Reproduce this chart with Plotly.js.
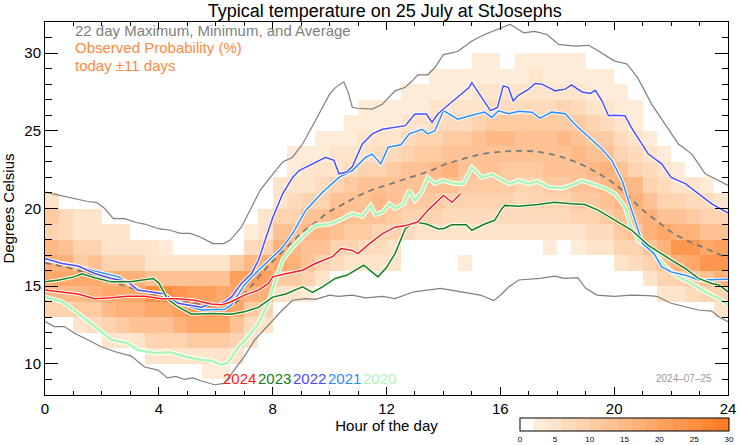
<!DOCTYPE html>
<html>
<head>
<meta charset="utf-8">
<script src="https://cdn.plot.ly/plotly-3.0.1.min.js"></script>
<style>html,body{margin:0;padding:0;background:#fff;}#chart{width:742px;height:445px;}</style>
</head>
<body>
<div id="chart"></div>
<script>
// ---------- Probability heatmap (% of observations), half-hour columns, 1 °C bins ----------
// colLow: lower edge (°C) of the lowest occupied bin in each half-hour column
var colLow = [13,13,12,12,11,11,11,10,10,10,10,9,9,10,11,12,
              14,14,14,15,16,16,16,16,16,18,18,18,18,16,18,18,
              18,18,18,17,18,17,17,17,16,16,15,14,14,14,14,13];
// colVals: probabilities of successive 1 °C bins going upward from colLow
var colVals = [
  [8,14,18,17,14,9,10,5],
  [8,15,19,17,12,6,7],
  [5,11,15,19,11,8,5,4],
  [6,11,16,18,13,8,5,4],
  [5,8,15,18,17,8,5,4],
  [5,11,16,18,17,8,5,4],
  [5,12,17,19,17,8,5],
  [4,8,12,18,24,13,5,4],
  [5,9,13,19,24,13,5,3],
  [5,9,17,20,23,13,5],
  [5,10,18,22,21,13,5],
  [3,5,10,18,22,20,12,5],
  [3,5,10,19,22,19,12,4],
  [4,8,13,18,19,21,10],
  [5,6,10,17,21,14,6,3],
  [5,9,16,20,17,9,5,4],
  [5,11,18,16,12,8,5,4],
  [4,10,16,14,12,9,6,5,3,3],
  [3,8,12,13,14,12,8,5,4,3],
  [5,9,12,15,13,9,6,4,3,3],
  [6,9,12,15,12,8,5,4,3],
  [5,8,11,13,13,10,6,5,3,3],
  [4,6,10,12,13,12,8,5,4,3,2],
  [4,6,9,12,15,12,9,6,4,3,3],
  [4,5,8,11,13,13,10,7,5,3,3],
  [6,9,11,13,12,8,6,4,3,2],
  [5,8,10,12,13,10,8,5,3,3],
  [5,8,10,13,14,11,8,6,4,3,2],
  [4,7,9,12,16,12,10,6,4,3,3],
  [3,0,4,6,9,11,13,12,11,7,5,3,3],
  [4,6,8,10,12,13,12,8,5,4,3,3],
  [4,6,8,10,12,12,15,10,6,4,3,3],
  [4,6,8,10,11,12,14,10,6,5,3],
  [4,6,7,9,11,12,12,10,7,5,3,3],
  [4,6,8,9,11,12,12,11,7,5,4,3],
  [3,4,6,8,10,12,13,12,10,7,4,3,3],
  [5,7,9,11,12,13,14,11,8,5,3,3],
  [3,5,8,10,12,13,15,13,10,6,4,3,3],
  [4,6,9,11,13,15,13,11,8,5,3,3],
  [5,7,10,12,15,16,12,10,7,5,3,2],
  [4,8,10,13,15,16,13,8,6,4,3,2],
  [6,9,12,15,16,14,9,6,4,3,3],
  [5,9,13,17,16,13,9,6,4,3],
  [4,8,12,17,18,13,9,6,4,3],
  [5,9,16,22,17,12,8,5,3],
  [6,11,18,22,16,11,7,4],
  [8,13,22,18,13,9,6,3],
  [4,9,16,22,20,12,8,5]
];
var colHours = [];   // column centres (hour)
for (var i = 0; i < 48; i++) colHours.push(i * 0.5 + 0.25);
var binTemps = [];   // bin centres (°C)
for (var t = 8; t < 32; t++) binTemps.push(t + 0.5);

// ---------- 22-day envelope and average ----------
var maxHour = [0,0.5,1,1.5,1.8,2.1,2.4,2.8,3.2,3.5,4,4.4,4.75,5.1,5.45,5.9,6.27,6.5,6.9,7.2,7.57,8,8.35,8.7,9.05,9.5,10,10.2,10.5,10.65,10.8,11,11.5,11.85,12.3,12.66,12.9,13.1,13.45,13.7,14,14.5,15,15.45,15.9,16.35,16.82,17.2,17.64,18.05,18.63,19.1,19.45,20,20.45,20.83,21.32,21.79,22.26,22.73,23.2,23.67,24];
var maxTemp = [21.05,20.84,20.67,20.45,20.4,20.0,19.35,19.35,19.1,19.0,18.7,18.6,18.4,18.4,18.17,17.74,17.74,17.95,18.8,19.9,21.2,22.2,23.0,23.3,24.15,25.65,27.36,27.78,28.15,27.5,26.5,26.45,26.4,26.7,27.57,27.8,28.2,28.6,28.6,29.07,29.9,30.1,30.78,31.2,31.5,31.85,31.3,31.4,31.2,30.56,30.45,30.5,30.13,29.5,29.3,28.4,26.7,25.44,24.15,23.5,22.23,21.8,21.48];
var minHour = [0,0.33,0.68,1.03,1.5,1.97,2.44,3.03,3.5,3.97,4.3,4.6,4.9,5.2,5.5,5.96,6.3,6.66,7,7.37,7.7,8,8.34,8.7,9.16,9.5,10,10.3,10.8,11.27,11.86,12.3,12.96,13.9,14.6,15.3,15.77,16.05,16.3,16.65,17.4,17.9,18.25,18.72,19,19.4,20,20.6,21.2,21.5,22,22.5,22.96,23.43,23.67,24];
var minTemp = [12.72,12.4,12.4,11.97,11.55,11.1,10.8,10.5,9.8,9.6,9.1,9.2,9.0,9.1,8.9,8.66,8.75,9.62,10.47,11.55,12.2,12.8,13.47,14.1,14.2,14.15,14.43,14.35,14.43,14.25,14.35,14.2,14.64,14.86,14.64,14.43,14.07,14.5,14.96,15.4,15.5,15.65,15.5,15.55,14.86,14.43,14.35,14.43,14.4,14.35,13.9,13.7,13.47,13.4,13.04,12.72];
var avgHour = [0,1,2,3,4,5,5.8,6.3,6.8,7.2,7.7,8,8.5,9,9.5,10,10.5,11,11.5,12,12.5,13,13.5,14,14.5,15,15.5,16,16.5,17,17.5,18,18.5,19,19.5,20,20.5,21,21.5,22,22.5,23,23.5,24];
var avgTemp = [16.5,16.1,15.5,14.9,14.4,14.0,13.7,13.5,14.1,14.9,16.0,16.6,17.5,18.4,19.1,19.8,20.3,20.8,21.2,21.5,21.8,22.1,22.4,22.8,23.1,23.35,23.55,23.65,23.7,23.7,23.6,23.4,23.1,22.7,22.2,21.6,20.8,19.9,19.2,18.5,18.0,17.6,17.2,16.8];

// ---------- individual years ----------
var h2024 = [0,0.6,1.16,1.75,2.33,2.9,3.5,4.08,4.67,5.26,5.84,6.2,6.55,7,7.5,7.85,8,8.46,9.05,9.5,10.1,10.4,10.8,11,11.4,11.86,12.3,12.66,13.1,13.45,13.8,14,14.3,14.6];
var t2024 = [14.75,14.64,14.5,14.2,14.25,14.36,14.36,14.2,14.2,14.1,13.85,13.8,14.0,14.43,14.75,15.18,15.6,15.8,16.03,16.46,16.9,17.42,17.3,17.1,17.74,18.38,18.8,18.9,19.13,19.88,20.52,20.84,20.4,20.95];
var h2023 = [0,0.5,1.03,1.3,1.75,2.33,3,3.4,3.8,4,4.3,4.67,5.15,5.84,6.55,7,7.5,8,8.46,9.05,9.4,9.75,10.2,10.6,11.2,11.7,12,12.3,12.66,13,13.4,13.8,14,14.3,14.8,15,15.45,15.8,16.05,16.16,16.63,17.33,17.9,18.5,18.97,19.45,20.03,20.62,21.2,21.55,22,22.5,22.96,23.43,23.67,24];
var t2023 = [15.28,15.4,15.6,15.8,15.55,15.28,15.28,15.4,15.5,15.2,14.2,13.68,13.2,13.25,13.2,13.35,13.64,14.3,14.5,14.96,14.6,14.96,15.5,15.7,16.35,15.6,16.2,17.1,18.7,19.13,19.0,18.7,18.7,18.95,18.95,18.6,19.0,19.24,19.99,20.2,20.15,20.25,20.4,20.3,20.26,19.88,19.24,18.6,17.63,17.2,16.7,16.14,15.5,15.18,15.1,14.64];
var h2022 = [0,0.6,1.16,1.75,2.33,2.9,3.26,3.84,4.2,4.67,5.15,5.5,5.84,6.08,6.32,6.55,6.9,7.26,7.5,7.7,8,8.35,8.7,8.93,9.4,9.86,10.15,10.33,10.6,10.8,11.15,11.5,11.86,12.2,12.66,13,13.4,13.6,13.8,14,14.5,14.9,15,15.35,15.65,15.9,16.1,16.28,16.45,16.65,17,17.22,17.46,17.93,18.28,18.5,18.87,19.16,19.34,19.57,19.8,20,20.38,20.6,20.95,21.2,21.67,22,22.5,22.96,23.43,24];
var t2022 = [16.78,16.46,16.3,15.82,15.5,15.3,14.75,14.6,14.5,13.9,13.75,13.65,13.9,13.8,14.0,14.3,15.18,15.82,16.67,17.74,19.4,20.95,22.0,22.44,22.87,23.3,23.1,22.23,22.35,22.7,24.15,24.8,25.1,25.2,25.33,26.08,26.08,25.54,26.08,26.4,27.14,27.78,28.1,27.14,26.3,26.5,27.89,27.8,26.93,27.3,27.68,28.04,28.0,27.57,27.68,27.96,27.5,27.4,27.6,26.93,25.97,26.0,25.97,25.22,24.26,23.5,22.87,22.0,21.6,20.95,20.3,19.7];
var h2021 = [0,0.6,1.16,1.7,2.2,2.6,3,3.35,3.7,4,4.2,4.4,4.9,5.5,6,6.3,6.55,7,7.5,8,8.3,8.7,9.16,9.75,10.33,10.8,11.27,11.5,11.8,12.06,12.5,12.8,13.25,13.45,13.7,14,14.5,15,15.45,15.7,15.93,16.3,16.65,17.1,17.4,17.8,18.28,18.63,19.1,19.57,19.92,20.28,20.5,20.8,21,21.4,21.67,22,22.5,22.96,23.43,24];
var t2021 = [16.7,16.5,16.3,16.0,15.8,15.6,15.1,14.75,14.6,14.6,14.4,14.25,13.79,13.47,13.5,13.5,13.8,15.07,16.03,16.9,17.4,18.38,19.88,21.05,22.0,22.44,23.3,23.5,22.87,23.94,24.1,24.8,25.1,24.8,25.0,26.3,25.75,26.0,26.2,25.86,26.29,26.1,26.25,26.2,25.82,26.2,26.1,25.39,24.58,23.83,23.08,21.8,20.52,18.8,17.74,17.1,16.24,15.92,15.71,15.4,15.4,15.44];
var h2020 = [0,0.6,1.16,1.75,2.33,2.9,3.26,3.84,4.4,4.9,5.5,5.84,6.2,6.44,6.8,7.15,7.5,7.85,8.06,8.35,8.7,9.16,9.5,10,10.33,10.8,11.15,11.45,11.6,11.86,12.1,12.3,12.6,12.8,13,13.25,13.45,13.7,13.95,14.2,14.4,14.7,15,15.35,15.7,16,16.3,16.65,17,17.3,17.7,18.16,18.5,18.87,19.2,19.68,20.03,20.38,20.6,20.85,21.08,21.44,21.8,22.26,22.73,23.2,23.67,24];
var t2020 = [14.3,14.0,13.26,12.4,11.55,11.33,10.9,10.7,10.75,10.47,10.26,10.2,9.94,10.1,11.1,11.76,12.6,13.9,15.18,16.67,17.52,18.38,18.9,19.0,19.24,19.67,19.5,20.2,19.6,19.75,20.3,20.0,20.3,21.16,20.52,21.1,22.0,21.6,21.8,21.7,21.6,21.6,22.65,22.0,22.2,21.9,21.59,21.8,21.6,21.75,21.37,21.3,21.5,21.8,21.6,21.3,20.95,20.1,18.8,17.96,17.6,17.1,16.24,15.6,15.18,14.64,14.2,13.8];

var yearNames  = ['2024','2023','2022','2021','2020'];
var yearColors = ['#ff1a1a','#13801a','#4b4bff','#2a8cff','#aef5b8'];
var yearHours  = [h2024,h2023,h2022,h2021,h2020];
var yearTemps  = [t2024,t2023,t2022,t2021,t2020];
var yearLabelHour = [6.84,8.06,9.29,10.52,11.75];

var xTicks = [0,4,8,12,16,20,24];
var yTicks = [10,15,20,25,30];
var cbTicks = [0,5,10,15,20,25,30];

// ---------- build heatmap matrix ----------
var z = [];
for (var r = 0; r < binTemps.length; r++) { var row = []; for (var c = 0; c < colHours.length; c++) row.push(null); z.push(row); }
for (var c = 0; c < colHours.length; c++) {
  for (var j = 0; j < colVals[c].length; j++) {
    var v = colVals[c][j];
    z[colLow[c] - 8 + j][c] = v > 0 ? v : null;
  }
}
var stepColors = ['#ffffff','#feecd8','#fee4ca','#fedbbd','#fed3af','#fecaa1','#fec294','#feb986','#feb178','#fea86a','#fda05d','#fd974f','#fd8f41','#fd8634','#fd7e26'];
var colorscale = [];
for (var k = 0; k < stepColors.length; k++) {
  colorscale.push([k / stepColors.length, stepColors[k]]);
  colorscale.push([(k + 1) / stepColors.length, stepColors[k]]);
}

var FONT = 'Liberation Sans, Arial, Helvetica, sans-serif';
var traces = [];
traces.push({
  type: 'heatmap', x: colHours, y: binTemps, z: z, zmin: 0, zmax: 30,
  colorscale: colorscale, hoverinfo: 'skip', xgap: 0, ygap: 0,
  colorbar: {
    orientation: 'h', thickness: 12.6, thicknessmode: 'pixels',
    len: 208.5, lenmode: 'pixels', x: 0.6955, xanchor: 'left', xref: 'paper',
    y: -0.0627, yanchor: 'top', yref: 'paper', xpad: 0, ypad: 0,
    outlinewidth: 1, outlinecolor: '#000', tickvals: cbTicks, ticks: '',
    tickfont: { family: FONT, size: 8, color: '#000' }
  }
});
traces.push({ type: 'scatter', mode: 'lines', x: maxHour, y: maxTemp, line: { color: '#7f7f7f', width: 1.2 }, hoverinfo: 'skip' });
traces.push({ type: 'scatter', mode: 'lines', x: minHour, y: minTemp, line: { color: '#7f7f7f', width: 1.2 }, hoverinfo: 'skip' });
traces.push({ type: 'scatter', mode: 'lines', x: avgHour, y: avgTemp, line: { color: '#7a7a7a', width: 1.8, dash: '6px,5px', shape: 'spline' }, hoverinfo: 'skip' });
for (var n = yearNames.length - 1; n >= 0; n--) {
  var thick = yearNames[n] === '2020';
  traces.push({ type: 'scatter', mode: 'lines', x: yearHours[n], y: yearTemps[n], line: { color: '#ffffff', width: thick ? 4.6 : 3.4 }, hoverinfo: 'skip' });
  traces.push({ type: 'scatter', mode: 'lines', x: yearHours[n], y: yearTemps[n], line: { color: yearColors[n], width: thick ? 2.6 : 1.5 }, hoverinfo: 'skip' });
}

var annotations = [
  { text: '22 day Maximum, Minimum, and Average', xref: 'paper', yref: 'paper', x: 0.041, y: 0.9772, xanchor: 'left', yanchor: 'middle', showarrow: false, font: { family: FONT, size: 15, color: '#808080' } },
  { text: 'Observed Probability (%)', xref: 'paper', yref: 'paper', x: 0.041, y: 0.9304, xanchor: 'left', yanchor: 'middle', showarrow: false, font: { family: FONT, size: 15, color: '#ff8a3d' } },
  { text: 'today \u00b111 days', xref: 'paper', yref: 'paper', x: 0.041, y: 0.8835, xanchor: 'left', yanchor: 'middle', showarrow: false, font: { family: FONT, size: 15, color: '#ff8a3d' } },
  { text: '2024\u201307\u201325', xref: 'x', yref: 'y', x: 22.45, y: 9.03, xanchor: 'center', yanchor: 'middle', showarrow: false, font: { family: FONT, size: 10, color: '#9a9a9a' } }
];
for (var n = 0; n < yearNames.length; n++) {
  annotations.push({ text: yearNames[n], xref: 'x', yref: 'y', x: yearLabelHour[n], y: 9.03, xanchor: 'center', yanchor: 'middle', showarrow: false, font: { family: FONT, size: 15, color: yearColors[n] } });
}

var layout = {
  width: 742, height: 445,
  margin: { l: 45, r: 14, t: 22, b: 50, pad: 0, autoexpand: false },
  paper_bgcolor: '#fff', plot_bgcolor: '#fff',
  showlegend: false,
  font: { family: FONT, color: '#000', size: 15 },
  title: { text: 'Typical temperature on 25 July at StJosephs', x: 0.5185, xanchor: 'center', y: 0.976, yanchor: 'middle', yref: 'container', font: { family: FONT, size: 18, color: '#000' } },
  xaxis: {
    range: [0, 24], tickvals: xTicks, ticktext: xTicks.map(String), ticks: 'inside', ticklen: 8, tickwidth: 1, tickcolor: '#000',
    showline: true, linecolor: '#000', linewidth: 1, mirror: 'allticks', showgrid: false, zeroline: false, automargin: false,
    minor: { dtick: 1, tick0: 0, ticks: 'inside', ticklen: 4, tickcolor: '#000', showgrid: false },
    tickfont: { family: FONT, size: 15, color: '#000' },
    title: { text: 'Hour of the day', font: { family: FONT, size: 15, color: '#000' }, standoff: 3 }
  },
  yaxis: {
    range: [8, 32], tickvals: yTicks, ticktext: yTicks.map(String), ticks: 'inside', ticklen: 13, tickwidth: 1, tickcolor: '#000',
    showline: true, linecolor: '#000', linewidth: 1, mirror: 'allticks', showgrid: false, zeroline: false, automargin: false,
    minor: { dtick: 1, tick0: 8, ticks: 'inside', ticklen: 6.5, tickcolor: '#000', showgrid: false },
    tickfont: { family: FONT, size: 15, color: '#000' },
    title: { text: 'Degrees Celsius', font: { family: FONT, size: 15, color: '#000' }, standoff: 6 }
  },
  annotations: annotations
};

Plotly.newPlot('chart', traces, layout, { staticPlot: true, displayModeBar: false });
</script>
</body>
</html>
